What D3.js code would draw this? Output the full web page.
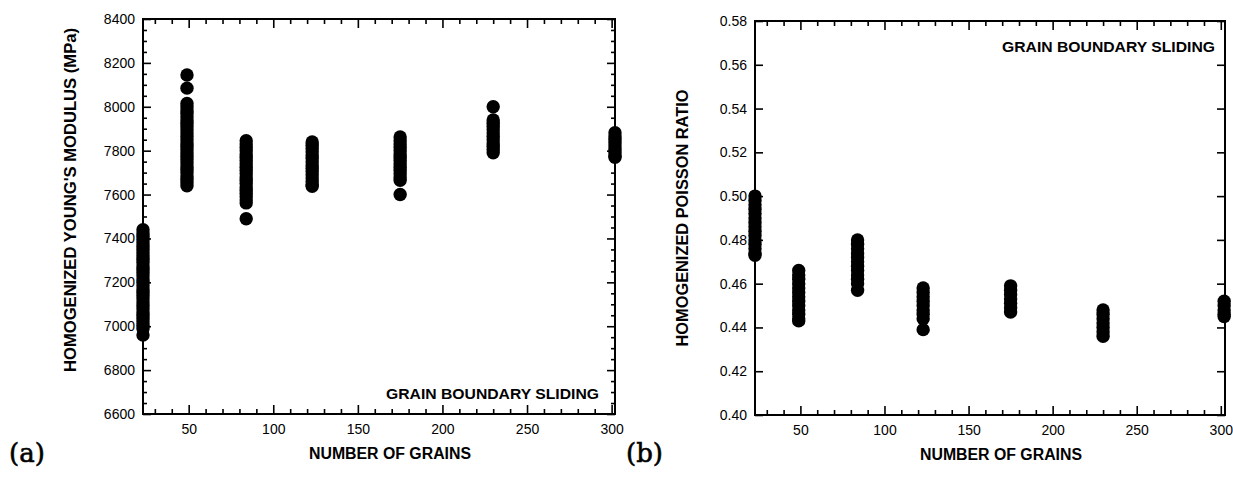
<!DOCTYPE html>
<html>
<head>
<meta charset="utf-8">
<script src="https://cdn.jsdelivr.net/npm/d3@7"></script>
<style>
  body { margin: 0; background: #fff; }
  text { font-family: "Liberation Sans", Arial, sans-serif; }
</style>
</head>
<body>
<div id="chart"></div>
<script>
// number of grains for each column of results
const grains = [23, 49, 84, 123, 175, 230, 302];

// homogenized Young's modulus (MPa), one list per grain count
const youngValues = [
  [7440, 7425, 7410, 7395, 7380, 7365, 7350, 7335, 7320, 7305, 7290, 7275, 7260, 7245, 7230, 7215, 7200, 7185, 7170, 7155, 7140, 7125, 7110, 7095, 7080, 7065, 7050, 7035, 7020, 7005, 6990, 6960],
  [8145, 8085, 8015, 8000, 7985, 7970, 7955, 7940, 7925, 7910, 7895, 7880, 7865, 7850, 7835, 7820, 7805, 7790, 7775, 7760, 7745, 7730, 7715, 7700, 7685, 7670, 7655, 7640],
  [7845, 7830, 7815, 7800, 7785, 7770, 7755, 7740, 7725, 7710, 7695, 7680, 7665, 7650, 7635, 7620, 7605, 7590, 7575, 7562, 7490],
  [7840, 7825, 7810, 7795, 7780, 7765, 7750, 7735, 7720, 7705, 7690, 7675, 7660, 7645, 7638],
  [7862, 7845, 7830, 7815, 7800, 7785, 7770, 7755, 7740, 7725, 7710, 7695, 7680, 7665, 7600],
  [8000, 7940, 7925, 7910, 7895, 7880, 7865, 7850, 7835, 7820, 7805, 7790],
  [7882, 7867, 7852, 7837, 7822, 7807, 7792, 7777, 7770]
];

// homogenized Poisson ratio, one list per grain count
const poissonValues = [
  [0.500, 0.498, 0.496, 0.494, 0.492, 0.490, 0.488, 0.486, 0.484, 0.482, 0.480, 0.478, 0.476, 0.474, 0.473],
  [0.466, 0.464, 0.462, 0.460, 0.458, 0.456, 0.454, 0.452, 0.450, 0.448, 0.446, 0.444, 0.443],
  [0.480, 0.478, 0.476, 0.474, 0.472, 0.470, 0.468, 0.466, 0.464, 0.462, 0.460, 0.457],
  [0.458, 0.456, 0.454, 0.452, 0.450, 0.448, 0.446, 0.444, 0.439],
  [0.459, 0.457, 0.455, 0.453, 0.451, 0.449, 0.447],
  [0.448, 0.446, 0.444, 0.442, 0.440, 0.438, 0.436],
  [0.452, 0.450, 0.448, 0.446, 0.445]
];

// tick values
const xTicks = [50, 100, 150, 200, 250, 300];
const xMinorTicks = [30, 40, 60, 70, 80, 90, 110, 120, 130, 140, 160, 170, 180, 190, 210, 220, 230, 240, 260, 270, 280, 290];
const youngTicks = [6600, 6800, 7000, 7200, 7400, 7600, 7800, 8000, 8200, 8400];
const youngMinorTicks = [6650, 6700, 6750, 6850, 6900, 6950, 7050, 7100, 7150, 7250, 7300, 7350, 7450, 7500, 7550, 7650, 7700, 7750, 7850, 7900, 7950, 8050, 8100, 8150, 8250, 8300, 8350];
const poissonTicks = [0.40, 0.42, 0.44, 0.46, 0.48, 0.50, 0.52, 0.54, 0.56, 0.58];

const width = 1233;
const height = 479;

const svg = d3
  .select("#chart")
  .append("svg")
  .attr("width", width)
  .attr("height", height)
  .attr("viewBox", [0, 0, width, height]);

function drawPanel(p) {
  const x = d3.scaleLinear().domain(p.xDomain).range([p.left, p.left + p.w]);
  const y = d3.scaleLinear().domain(p.yDomain).range([p.top + p.h, p.top]);
  const bottom = p.top + p.h;
  const right = p.left + p.w;

  const styleAxis = (g) => {
    g.select(".domain").remove();
    g.selectAll(".tick line").attr("stroke", "#000").attr("stroke-width", 1.6);
    g.selectAll(".tick text")
      .attr("fill", "#000")
      .style("font-size", "14px");
  };

  // bottom axis (labels) + minor
  svg.append("g")
    .attr("transform", `translate(0,${bottom})`)
    .call(d3.axisBottom(x).tickValues(xTicks).tickSize(-9).tickPadding(10).tickFormat(d3.format("d")))
    .call(styleAxis);
  svg.append("g")
    .attr("transform", `translate(0,${bottom})`)
    .call(d3.axisBottom(x).tickValues(xMinorTicks).tickSize(-5).tickFormat(""))
    .call(styleAxis);

  // top axis, ticks only
  svg.append("g")
    .attr("transform", `translate(0,${p.top})`)
    .call(d3.axisTop(x).tickValues(xTicks).tickSize(-9).tickFormat(""))
    .call(styleAxis);
  svg.append("g")
    .attr("transform", `translate(0,${p.top})`)
    .call(d3.axisTop(x).tickValues(xMinorTicks).tickSize(-5).tickFormat(""))
    .call(styleAxis);

  // left axis (labels)
  svg.append("g")
    .attr("transform", `translate(${p.left},0)`)
    .call(d3.axisLeft(y).tickValues(p.yTicks).tickSize(-8).tickPadding(8).tickFormat(p.yFormat))
    .call(styleAxis);
  // right axis, ticks only
  svg.append("g")
    .attr("transform", `translate(${right},0)`)
    .call(d3.axisRight(y).tickValues(p.yTicks).tickSize(-8).tickFormat(""))
    .call(styleAxis);

  if (p.yMinor) {
    svg.append("g")
      .attr("transform", `translate(${p.left},0)`)
      .call(d3.axisLeft(y).tickValues(p.yMinor).tickSize(-4).tickFormat(""))
      .call(styleAxis);
    svg.append("g")
      .attr("transform", `translate(${right},0)`)
      .call(d3.axisRight(y).tickValues(p.yMinor).tickSize(-4).tickFormat(""))
      .call(styleAxis);
  }

  // frame
  svg.append("rect")
    .attr("x", p.left)
    .attr("y", p.top)
    .attr("width", p.w)
    .attr("height", p.h)
    .attr("fill", "none")
    .attr("stroke", "#000")
    .attr("stroke-width", 2);

  // points
  const pts = [];
  p.values.forEach((col, i) => col.forEach((v) => pts.push({ g: grains[i], v: v })));
  svg.append("g")
    .selectAll("circle")
    .data(pts)
    .join("circle")
    .attr("cx", (d) => x(d.g))
    .attr("cy", (d) => y(d.v))
    .attr("r", 6.7)
    .attr("fill", "#000");

  // x title
  svg.append("text")
    .attr("x", p.left + p.w / 2 + 11)
    .attr("y", bottom + 45)
    .attr("text-anchor", "middle")
    .attr("font-weight", "bold")
    .attr("textLength", 162)
    .attr("lengthAdjust", "spacingAndGlyphs")
    .style("font-size", "16px")
    .text("NUMBER OF GRAINS");

  // y title
  svg.append("text")
    .attr("transform", `translate(${p.yTitleX},${p.yTitleY}) rotate(-90)`)
    .attr("text-anchor", "middle")
    .attr("font-weight", "bold")
    .attr("textLength", p.yTitleLen)
    .attr("lengthAdjust", "spacingAndGlyphs")
    .style("font-size", "16px")
    .text(p.yTitle);

  // annotation
  svg.append("text")
    .attr("x", p.noteX)
    .attr("y", p.noteY)
    .attr("text-anchor", "end")
    .attr("font-weight", "bold")
    .attr("textLength", 213)
    .attr("lengthAdjust", "spacingAndGlyphs")
    .style("font-size", "15.5px")
    .text("GRAIN BOUNDARY SLIDING");

  // panel letter
  svg.append("text")
    .attr("x", p.letterX)
    .attr("y", 462)
    .attr("stroke", "#000")
    .attr("stroke-width", 0.6)
    .style("font-family", "'DejaVu Serif', 'Liberation Serif', serif")
    .style("font-size", "26px")
    .text(p.letter);
}

drawPanel({
  left: 143, top: 19, w: 472, h: 395,
  xDomain: [23, 302],
  yDomain: [6600, 8400],
  yTicks: youngTicks,
  yMinor: youngMinorTicks,
  yFormat: d3.format("d"),
  values: youngValues,
  yTitle: "HOMOGENIZED YOUNG'S MODULUS  (MPa)",
  yTitleX: 75.5, yTitleY: 200, yTitleLen: 344,
  noteX: 599, noteY: 399,
  letter: "(a)", letterX: 9
});

drawPanel({
  left: 755, top: 21, w: 470, h: 394,
  xDomain: [23, 302.5],
  yDomain: [0.40, 0.58],
  yTicks: poissonTicks,
  yMinor: null,
  yFormat: d3.format(".2f"),
  values: poissonValues,
  yTitle: "HOMOGENIZED POISSON RATIO",
  yTitleX: 687.5, yTitleY: 218, yTitleLen: 257,
  noteX: 1215, noteY: 52,
  letter: "(b)", letterX: 626
});
</script>
</body>
</html>
